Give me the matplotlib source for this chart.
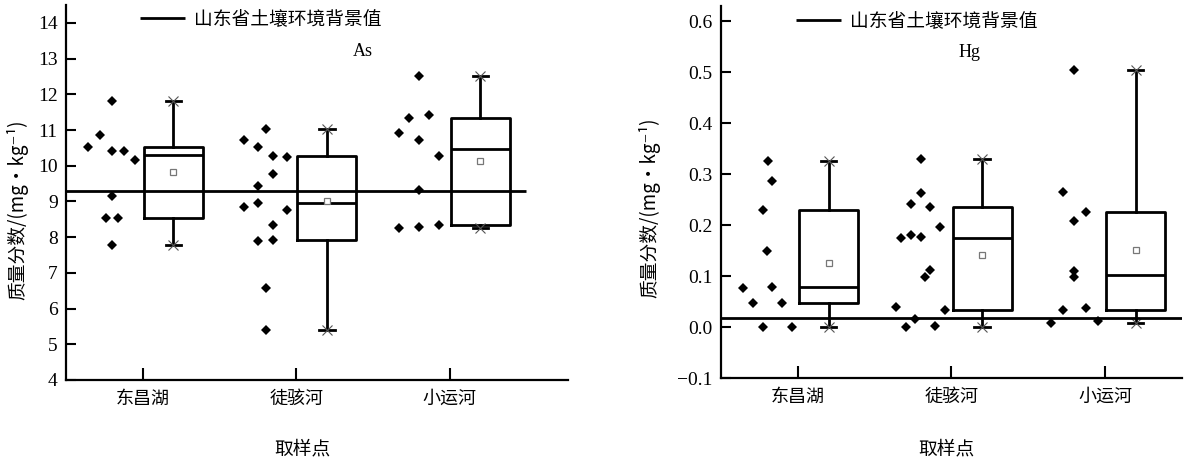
import matplotlib
matplotlib.use("Agg")
import matplotlib.pyplot as plt

plt.rcParams['font.family'] = ['Noto Sans CJK SC', 'DejaVu Sans']

sites = ['东昌湖', '徒骇河', '小运河']
legend_text = '山东省土壤环境背景值'
ylabel_text = '质量分数/(mg・kg⁻¹)'
xlabel_text = '取样点'

# As, mg/kg -- samples per site (x offset from site tick, value)
as_dx = [
    [-0.355, -0.279, -0.200, -0.200, -0.124, -0.050, -0.200, -0.239, -0.163, -0.200],
    [-0.341, -0.198, -0.246, -0.148, -0.057, -0.148, -0.246, -0.246, -0.341, -0.057,
     -0.148, -0.246, -0.148, -0.198, -0.198],
    [-0.200, -0.265, -0.137, -0.328, -0.200, -0.072, -0.200, -0.328, -0.200, -0.072],
]
as_vals = [
    [10.53, 10.87, 11.81, 10.42, 10.42, 10.15, 9.16, 8.53, 8.53, 7.78],
    [10.73, 11.04, 10.53, 10.28, 10.25, 9.78, 9.44, 8.96, 8.84, 8.75,
     8.33, 7.90, 7.93, 6.58, 5.40],
    [12.52, 11.34, 11.41, 10.93, 10.72, 10.26, 9.32, 8.26, 8.29, 8.35],
]
as_q1 = [8.55, 7.93, 8.35]
as_med = [10.30, 8.96, 10.48]
as_q3 = [10.53, 10.28, 11.34]
as_mean = [9.83, 9.00, 10.14]
as_min = [7.78, 5.40, 8.27]
as_max = [11.81, 11.04, 12.52]
as_bg = 9.3

# Hg, mg/kg
hg_dx = [
    [-0.197, -0.165, -0.230, -0.199, -0.358, -0.167, -0.295, -0.102, -0.230, -0.041],
    [-0.200, -0.200, -0.265, -0.137, -0.074, -0.328, -0.265, -0.200, -0.137, -0.169,
     -0.363, -0.041, -0.235, -0.298, -0.106],
    [-0.199, -0.276, -0.124, -0.199, -0.199, -0.199, -0.276, -0.124, -0.352, -0.048],
]
hg_vals = [
    [0.327, 0.287, 0.231, 0.149, 0.078, 0.079, 0.048, 0.048, 0.000, 0.001],
    [0.330, 0.264, 0.241, 0.235, 0.196, 0.175, 0.181, 0.177, 0.112, 0.098,
     0.039, 0.034, 0.017, 0.000, 0.003],
    [0.505, 0.265, 0.226, 0.208, 0.110, 0.098, 0.034, 0.038, 0.009, 0.012],
]
hg_q1 = [0.048, 0.034, 0.034]
hg_med = [0.080, 0.175, 0.103]
hg_q3 = [0.231, 0.235, 0.226]
hg_mean = [0.126, 0.141, 0.151]
hg_min = [0.000, 0.000, 0.009]
hg_max = [0.327, 0.330, 0.505]
hg_bg = 0.019

serif = 'Liberation Serif'


def draw_panel(ax, dx, vals, q1, med, q3, mean, lo, hi, bg, name,
               ylim, yticks, ylabels, xlim, leg_xy, name_xy, ylab_xy, xlab_xy):
    pos = [1, 2, 3]
    for p, d, v in zip(pos, dx, vals):
        ax.plot([p + o for o in d], v, linestyle='none', marker='D',
                markersize=5, color='black', markeredgewidth=0)

    stats = []
    for i in range(3):
        stats.append(dict(q1=q1[i], med=med[i], q3=q3[i], mean=mean[i],
                          whislo=lo[i], whishi=hi[i], fliers=[]))
    ax.bxp(stats, positions=[p + 0.2 for p in pos], widths=0.385,
           showmeans=True, showfliers=False, capwidths=0.1,
           boxprops=dict(linewidth=2, color='black'),
           medianprops=dict(linewidth=2, color='black'),
           whiskerprops=dict(linewidth=2, color='black'),
           capprops=dict(linewidth=2, color='black'),
           meanprops=dict(marker='s', markersize=5, markerfacecolor='white',
                          markeredgecolor='#777777', markeredgewidth=0.9))
    for p, a, b in zip(pos, lo, hi):
        ax.plot([p + 0.2, p + 0.2], [a, b], linestyle='none', marker='x',
                markersize=7, color='#555555', markeredgewidth=0.8)

    ax.hlines(bg, 0.5, 3.5, colors='black', linewidth=2, label=legend_text)

    ax.set_xlim(*xlim)
    ax.set_ylim(*ylim)
    ax.set_xticks(pos)
    ax.set_xticklabels(sites, fontsize=13)
    ax.set_yticks(yticks)
    ax.set_yticklabels(ylabels, fontsize=14, family=serif)
    ax.tick_params(axis='x', direction='in', length=8.5, width=1.5, pad=7)
    ax.tick_params(axis='y', direction='in', length=7.5, width=1.5, pad=6)
    for s in ['top', 'right']:
        ax.spines[s].set_visible(False)
    for s in ['left', 'bottom']:
        ax.spines[s].set_linewidth(1.6)

    ax.legend(loc='center left', bbox_to_anchor=leg_xy, frameon=False,
              borderpad=0, borderaxespad=0, handlelength=2.4,
              handletextpad=0.5, prop=dict(size=13.5))
    ax.text(name_xy[0], name_xy[1], name, transform=ax.transAxes,
            ha='center', va='center', fontsize=13, family=serif)
    ax.set_ylabel(ylabel_text, fontsize=13.5)
    ax.yaxis.set_label_coords(*ylab_xy)
    ax.set_xlabel(xlabel_text, fontsize=13.5)
    ax.xaxis.set_label_coords(*xlab_xy)


fig = plt.figure(figsize=(11.92, 4.62), dpi=100)
ax1 = fig.add_axes([0.0554, 0.1775, 0.4209, 0.8115])
ax2 = fig.add_axes([0.6049, 0.181, 0.3865, 0.806])

draw_panel(ax1, as_dx, as_vals, as_q1, as_med, as_q3, as_mean, as_min, as_max,
           as_bg, 'As', (4, 14.5), list(range(4, 15)),
           [str(v) for v in range(4, 15)], (0.5, 3.77),
           (0.1475, 0.963), (0.591, 0.875), (-0.076, 0.453), (0.471, -0.155))

hg_ticks = [-0.1, 0.0, 0.1, 0.2, 0.3, 0.4, 0.5, 0.6]
draw_panel(ax2, hg_dx, hg_vals, hg_q1, hg_med, hg_q3, hg_mean, hg_min, hg_max,
           hg_bg, 'Hg', (-0.1, 0.63), hg_ticks,
           ['−0.1'] + ['%.1f' % v for v in hg_ticks[1:]], (0.5, 3.5),
           (0.162, 0.96), (0.540, 0.876), (-0.132, 0.457), (0.49, -0.162))

fig.savefig('out.png', dpi=100)
